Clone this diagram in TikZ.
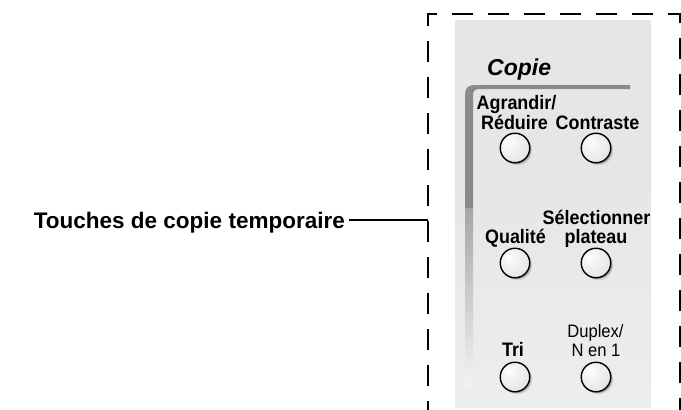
\documentclass[tikz,border=0pt]{standalone}
\usepackage{fontspec}
\setmainfont{Liberation Sans}
\newfontfamily\lblfont[FakeStretch=0.92]{Liberation Sans}
\usetikzlibrary{shadows}
\definecolor{ptop}{HTML}{D4D4D4}
\definecolor{pmid}{HTML}{E6E6E6}
\definecolor{pbot}{HTML}{F3F3F3}
\definecolor{bargray}{HTML}{8A8A8A}
\definecolor{barhalf}{HTML}{A6A6A6}
\definecolor{barmid}{HTML}{C4C4C4}
\definecolor{btnA}{HTML}{F4F4F4}
\definecolor{btnB}{HTML}{E4E4E4}
\definecolor{btnC}{HTML}{CCCCCC}
\pgfdeclareverticalshading{panelshade}{100bp}{color(0bp)=(pbot); color(55bp)=(pmid); color(89bp)=(pmid); color(96bp)=(ptop); color(100bp)=(ptop)}
\pgfdeclareradialshading{btnshade}{\pgfpoint{-12bp}{12bp}}{color(0bp)=(white); color(12bp)=(btnA); color(34bp)=(btnB); color(66bp)=(btnC)}
\begin{document}
\begin{tikzpicture}[x=1pt,y=-1pt,
  frame/.style={line width=2.6pt, dash pattern=on 21pt off 15pt, dash phase=12pt, line join=miter},
  lbl/.style={inner sep=0pt, anchor=base, font=\lblfont\bfseries\fontsize{19.5}{22}\selectfont},
  lblreg/.style={inner sep=0pt, anchor=base, font=\lblfont\fontsize{18}{20}\selectfont},
  btn/.style={circle, minimum size=29.5pt, inner sep=0pt, draw=black, line width=1.4pt, shading=btnshade,
    drop shadow={shadow xshift=2.4pt, shadow yshift=-2.4pt, opacity=0.10, fill=black},
    drop shadow={shadow xshift=1.4pt, shadow yshift=-1.4pt, opacity=0.22, fill=black}},
  mainlbl/.style={inner sep=0pt, inner xsep=4pt, anchor=base east, font=\bfseries\fontsize{22.5}{26}\selectfont}
]
\useasboundingbox (0,0) rectangle (681,410);
% panel
\shade[shading=panelshade] (455,20) rectangle (651,407);
% gray bracket
\fill[bargray] (465,208) -- (465,95) .. controls (465,88) and (468,85) .. (475,85) -- (630,85) -- (630,89)
  -- (479,89) .. controls (475,89) and (473,91) .. (473,95) -- (473,208) -- cycle;
\shade[top color=barhalf, middle color=barmid, bottom color=pbot] (465,208) rectangle (473,387);
% dashed frame
\draw[frame] (428,410) -- (428,14) -- (680,14) -- (680,410);
% heading
\node[inner sep=0pt, anchor=base west, font=\bfseries\itshape\fontsize{23}{26}\selectfont] (copie) at (487,75) {Copie};
% labels
\node[lbl] (l1a) at (516.5,109.5) {Agrandir/};
\node[lbl] (l1b) at (514.5,129) {Réduire};
\node[lbl] (l2) at (597.5,129) {Contraste};
\node[lbl] (l3) at (515.5,243) {Qualité};
\node[lbl] (l4a) at (596.5,224) {Sélectionner};
\node[lbl] (l4b) at (596,243) {plateau};
\node[lbl] (l5) at (513,356) {Tri};
\node[lblreg] (l6a) at (595.5,337.5) {Duplex/};
\node[lblreg] (l6b) at (596,356) {N en 1};
% buttons
\node[btn] (b1) at (515,148) {};
\node[btn] (b2) at (596,148) {};
\node[btn] (b3) at (515,263) {};
\node[btn] (b4) at (596,263) {};
\node[btn] (b5) at (515,377) {};
\node[btn] (b6) at (596,377) {};
% main label and connector
\node[mainlbl] (main) at (349,228) {Touches de copie temporaire};
\coordinate (fw) at (428,220);
\draw[line width=2pt] (fw -| main.east) -- (fw);
\end{tikzpicture}
\end{document}
